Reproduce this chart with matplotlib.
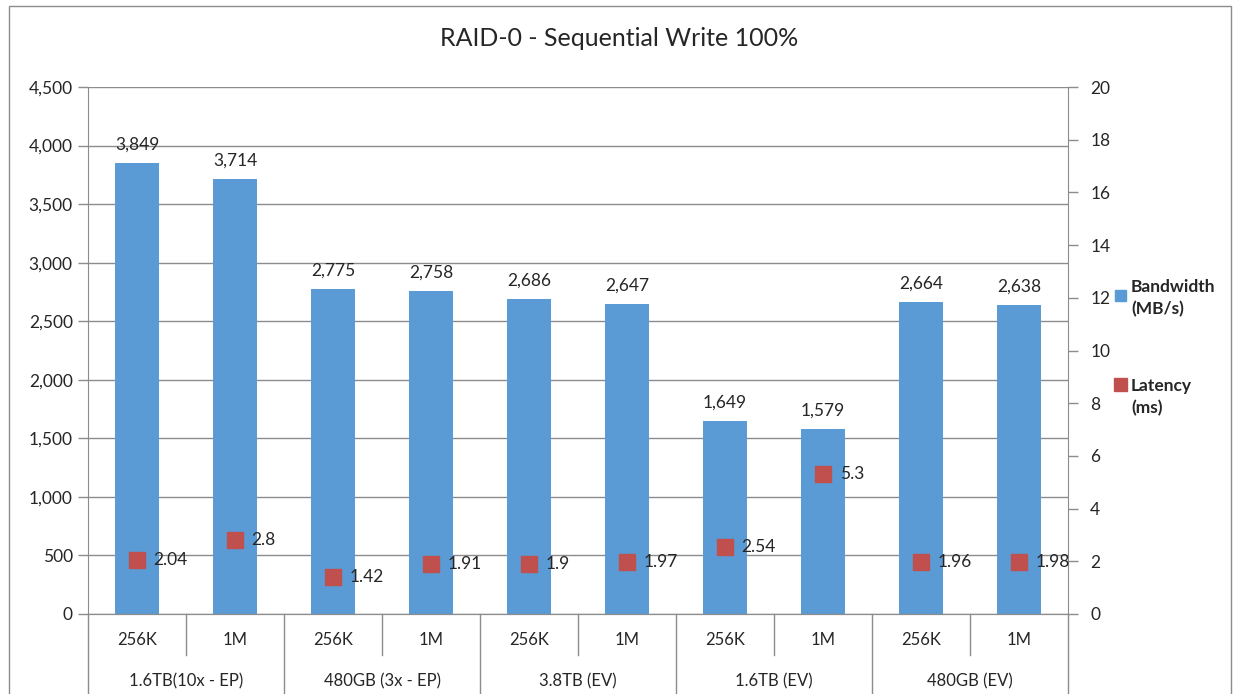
import numpy as np
import matplotlib.pyplot as plt
from matplotlib.patches import Rectangle

plt.rcParams['font.family'] = ['Lato', 'DejaVu Sans']

# Data
block_sizes = ["256K", "1M"] * 5
groups = ["1.6TB(10x - EP)", "480GB (3x - EP)", "3.8TB (EV)", "1.6TB (EV)", "480GB (EV)"]
bandwidth = [3849, 3714, 2775, 2758, 2686, 2647, 1649, 1579, 2664, 2638]
latency = [2.04, 2.8, 1.42, 1.91, 1.9, 1.97, 2.54, 5.3, 1.96, 1.98]

bar_color = "#5B9BD5"
lat_color = "#C0504D"
grid_color = "#8C8C8C"
text_color = "#262626"

fig = plt.figure(figsize=(12.38, 6.94), dpi=100)
W, H = 1238, 694

def px_x(x):
    return x / W

def px_y(y):
    return 1 - y / H

left, right, top, bottom = 88, 1068, 87, 614
ax = fig.add_axes([px_x(left), px_y(bottom), px_x(right) - px_x(left), px_y(top) - px_y(bottom)])
ax2 = ax.twinx()

x = np.arange(len(bandwidth))
bars = ax.bar(x, bandwidth, width=0.45, color=bar_color, zorder=2)
for xi, v in zip(x, bandwidth):
    ax.text(xi, v + 90, f"{v:,}", ha="center", va="bottom", fontsize=12.5, color=text_color)

ax.set_xlim(-0.5, len(x) - 0.5)
ax.set_ylim(0, 4500)
ax.set_yticks(np.arange(0, 4501, 500))
ax.set_yticklabels([f"{v:,}" for v in range(0, 4501, 500)])
ax.yaxis.grid(True, color=grid_color, linewidth=1.0, zorder=0)
ax.set_axisbelow(True)
ax.set_xticks([])

ax2.scatter(x, latency, marker="s", s=130, color=lat_color, zorder=4, label="Latency\n(ms)")
for xi, v in zip(x, latency):
    ax2.text(xi + 0.17, v, f"{v:g}", ha="left", va="center", fontsize=12.5, color=text_color, zorder=5)
ax2.set_ylim(0, 20)
ax2.set_yticks(np.arange(0, 21, 2))

for a in (ax, ax2):
    a.spines["top"].set_visible(False)
    a.spines["left"].set_color(grid_color)
    a.spines["right"].set_color(grid_color)
    a.spines["bottom"].set_color(grid_color)
    a.tick_params(axis="y", colors=text_color, labelsize=12.5, length=7, width=1, color=grid_color)
ax.spines["right"].set_visible(False)
ax2.spines["left"].set_visible(False)
ax.tick_params(axis="y", labelcolor=text_color, pad=4)
ax2.tick_params(axis="y", pad=9)

# Two-level category axis below the plot
trans = ax.get_xaxis_transform()
y_sub = -(655 - bottom) / (bottom - top)
y_end = -(H - bottom) / (bottom - top)
for b in np.arange(-0.5, len(x), 2):
    ax.plot([b, b], [0, y_end], color=grid_color, lw=1, transform=trans, clip_on=False)
for b in np.arange(0.5, len(x), 2):
    ax.plot([b, b], [0, y_sub], color=grid_color, lw=1, transform=trans, clip_on=False)
y_lab1 = -(640 - bottom) / (bottom - top)
y_lab2 = -(681 - bottom) / (bottom - top)
for xi, lab in zip(x, block_sizes):
    ax.text(xi, y_lab1, lab, ha="center", va="center", fontsize=12, color=text_color, transform=trans)
for gi, g in enumerate(groups):
    ax.text(2 * gi + 0.5, y_lab2, g, ha="center", va="center", fontsize=12, color=text_color, transform=trans)

# Legend
fig.patches.append(Rectangle((px_x(1115), px_y(301)), 11 / W, 11 / H, color=bar_color, transform=fig.transFigure))
fig.text(px_x(1131), px_y(298), "Bandwidth\n(MB/s)", fontsize=12.5, fontweight="bold", color=text_color,
         va="center", ha="left", linespacing=1.4)
fig.patches.append(Rectangle((px_x(1114), px_y(391)), 13 / W, 13 / H, color=lat_color, transform=fig.transFigure))
fig.text(px_x(1131), px_y(397), "Latency\n(ms)", fontsize=12.5, fontweight="bold", color=text_color,
         va="center", ha="left", linespacing=1.4)

fig.text(0.5, px_y(38), "RAID-0 - Sequential Write 100%", ha="center", va="center", fontsize=18, color=text_color)

# Chart border
fig.patches.append(Rectangle((px_x(9), -0.05), px_x(1231) - px_x(9), px_y(6) + 0.05, fill=False,
                             edgecolor=grid_color, lw=1, transform=fig.transFigure))

fig.savefig("out.png", dpi=100)
